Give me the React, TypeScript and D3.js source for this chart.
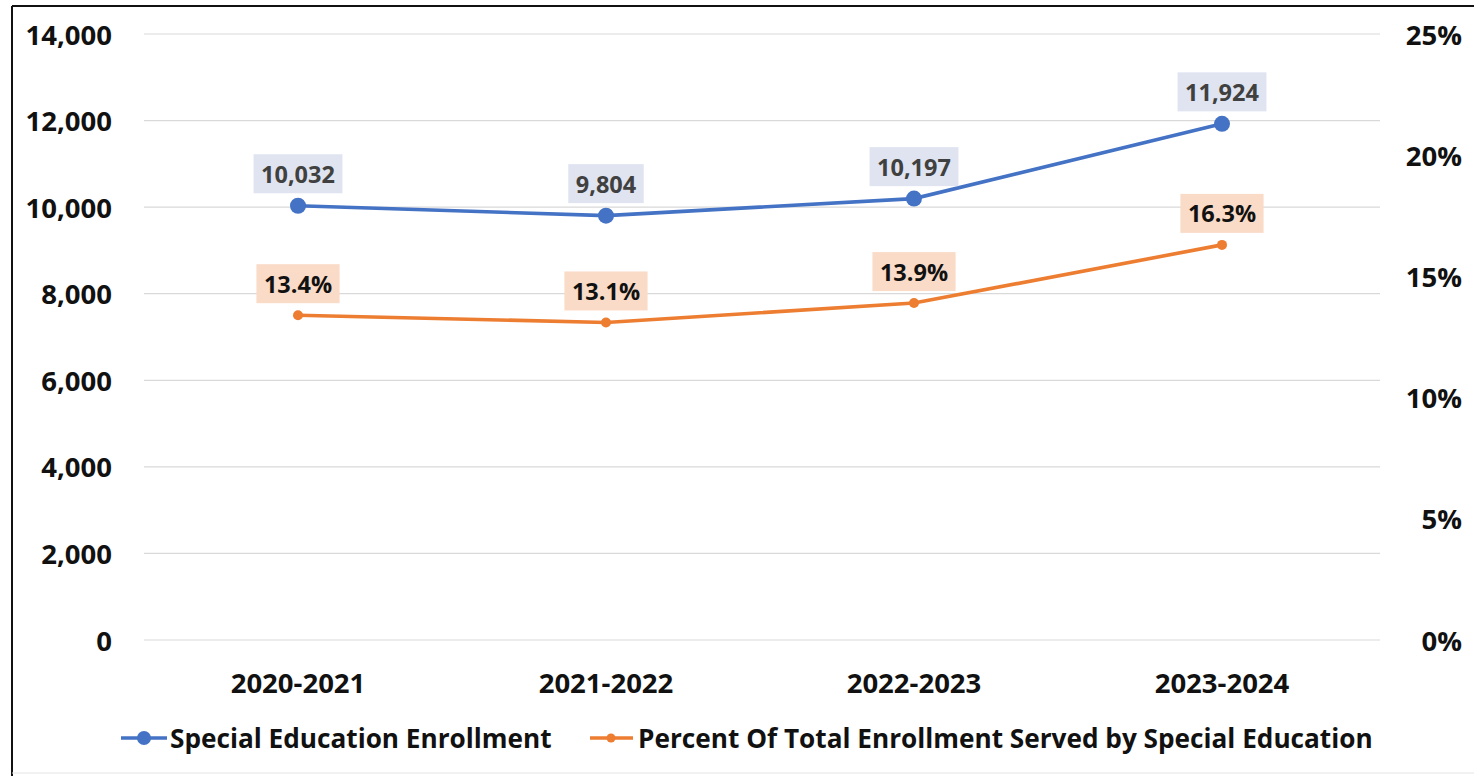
import React from "react";
import * as d3 from "d3";

const categories = ["2020-2021", "2021-2022", "2022-2023", "2023-2024"];
const enrollment = [10032, 9804, 10197, 11924];
const percent = [13.4, 13.1, 13.9, 16.3];
const leftTicks = [0, 2000, 4000, 6000, 8000, 10000, 12000, 14000];
const rightTicks = [0, 5, 10, 15, 20, 25];
const seriesNames = [
  "Special Education Enrollment",
  "Percent Of Total Enrollment Served by Special Education",
];

const W = 1474;
const H = 776;
const FONT = "'Open Sans', Lato, sans-serif";
const BLUE = "#4472c4";
const ORANGE = "#ed7d31";
const LABEL_SIZE = 23.5;

let ctx: CanvasRenderingContext2D | null = null;
function measure(text: string, size: number): number {
  if (!ctx && typeof document !== "undefined") {
    ctx = document.createElement("canvas").getContext("2d");
  }
  if (!ctx) return text.length * size * 0.55;
  ctx.font = `700 ${size}px 'Open Sans', Lato, sans-serif`;
  return ctx.measureText(text).width;
}

export default function App() {
  const x = d3.scaleBand<string>().domain(categories).range([144, 1376]);
  const cx = (c: string) => (x(c) as number) + x.bandwidth() / 2;
  const yL = d3.scaleLinear().domain([0, 14000]).range([640, 34]);
  const yR = d3.scaleLinear().domain([0, 25]).range([640, 34]);
  const fmt = d3.format(",");

  const lineL = d3
    .line<number>()
    .x((_, i) => cx(categories[i]))
    .y((d) => yL(d));
  const lineR = d3
    .line<number>()
    .x((_, i) => cx(categories[i]))
    .y((d) => yR(d));

  return (
    <svg
      width={W}
      height={H}
      style={{ position: "absolute", left: 0, top: 0, background: "#fff" }}
      fontFamily={FONT}
      fontWeight={700}
    >
      <rect x={0} y={0} width={W} height={H} fill="#fff" />
      {/* border */}
      <line x1={12} y1={6} x2={W} y2={6} stroke="#111" strokeWidth={2} />
      <line x1={12} y1={6} x2={12} y2={H} stroke="#111" strokeWidth={2} />
      <line x1={12} y1={773} x2={W} y2={773} stroke="#e4e4e4" strokeWidth={1} />

      {/* gridlines */}
      {leftTicks.map((t) => (
        <line
          key={"g" + t}
          x1={144}
          x2={1380}
          y1={yL(t)}
          y2={yL(t)}
          stroke="#d9d9d9"
          strokeWidth={1.2}
        />
      ))}

      {/* left axis labels */}
      {leftTicks.map((t) => (
        <text
          key={"l" + t}
          x={112}
          y={yL(t)}
          textAnchor="end"
          dominantBaseline="central"
          fontSize={27.5}
          fill="#111"
        >
          {fmt(t)}
        </text>
      ))}

      {/* right axis labels */}
      {rightTicks.map((t) => (
        <text
          key={"r" + t}
          x={1462}
          y={yR(t)}
          textAnchor="end"
          dominantBaseline="central"
          fontSize={27.5}
          fill="#111"
        >
          {t + "%"}
        </text>
      ))}

      {/* category labels */}
      {categories.map((c) => (
        <text
          key={"c" + c}
          x={cx(c)}
          y={682}
          textAnchor="middle"
          dominantBaseline="central"
          fontSize={27.5}
          fill="#111"
        >
          {c}
        </text>
      ))}

      {/* lines */}
      <path d={lineL(enrollment) || ""} fill="none" stroke={BLUE} strokeWidth={3.6} />
      <path d={lineR(percent) || ""} fill="none" stroke={ORANGE} strokeWidth={3.6} />
      {enrollment.map((v, i) => (
        <circle key={"bm" + i} cx={cx(categories[i])} cy={yL(v)} r={8} fill={BLUE} />
      ))}
      {percent.map((v, i) => (
        <circle key={"om" + i} cx={cx(categories[i])} cy={yR(v)} r={5} fill={ORANGE} />
      ))}

      {/* data labels */}
      {enrollment.map((v, i) => {
        const px = cx(categories[i]);
        const py = yL(v) - 32;
        const label = fmt(v);
        const w = measure(label, LABEL_SIZE) + 15;
        return (
          <g key={"bl" + i}>
            <rect x={px - w / 2} y={py - 19.5} width={w} height={39} fill="#dfe4f0" />
            <text
              x={px}
              y={py}
              textAnchor="middle"
              dominantBaseline="central"
              fontSize={LABEL_SIZE}
              fill="#404040"
            >
              {label}
            </text>
          </g>
        );
      })}
      {percent.map((v, i) => {
        const px = cx(categories[i]);
        const py = yR(v) - 31.5;
        const label = v.toFixed(1) + "%";
        const w = measure(label, LABEL_SIZE) + 15;
        return (
          <g key={"ol" + i}>
            <rect x={px - w / 2} y={py - 19.5} width={w} height={39} fill="#fadbc8" />
            <text
              x={px}
              y={py}
              textAnchor="middle"
              dominantBaseline="central"
              fontSize={LABEL_SIZE}
              fill="#111"
            >
              {label}
            </text>
          </g>
        );
      })}

      {/* legend */}
      <line x1={121} x2={167} y1={738} y2={738} stroke={BLUE} strokeWidth={3.6} />
      <circle cx={144} cy={738} r={7} fill={BLUE} />
      <text x={170} y={738} dominantBaseline="central" fontSize={26.2} fill="#111">
        {seriesNames[0]}
      </text>
      <line x1={590} x2={633} y1={738} y2={738} stroke={ORANGE} strokeWidth={3.6} />
      <circle cx={611} cy={738} r={4.5} fill={ORANGE} />
      <text x={638} y={738} dominantBaseline="central" fontSize={26.2} fill="#111">
        {seriesNames[1]}
      </text>
    </svg>
  );
}
